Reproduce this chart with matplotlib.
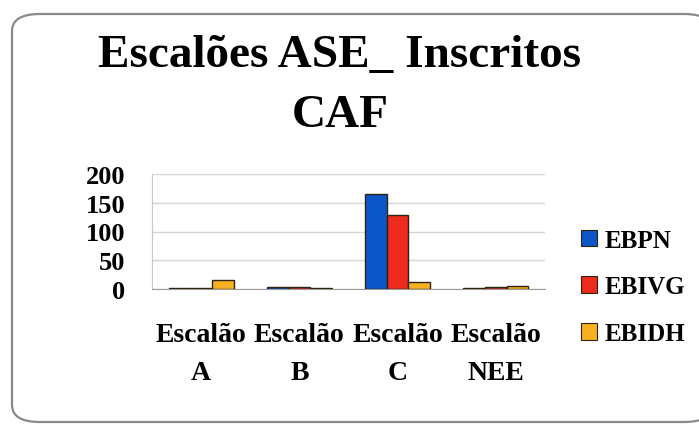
import matplotlib
matplotlib.use("Agg")
import matplotlib.pyplot as plt
from matplotlib.patches import FancyBboxPatch, Patch
import numpy as np

categories = ["Escalão\nA", "Escalão\nB", "Escalão\nC", "Escalão\nNEE"]
series_names = ["EBPN", "EBIVG", "EBIDH"]
ebpn = [2, 3, 166, 2]
ebivg = [2, 3, 129, 3]
ebidh = [16, 2, 13, 5]
yticks = [0, 50, 100, 150, 200]
colors = ["#0B57C9", "#EC2A1E", "#F6B021"]

plt.rcParams['font.family'] = ['Liberation Serif', 'DejaVu Serif']
plt.rcParams['font.weight'] = 'bold'

fig = plt.figure(figsize=(6.99, 4.27), dpi=100)
fig.patch.set_facecolor("white")

box = FancyBboxPatch((12/699, 4/427), 700/699, 408/427,
                     boxstyle="round,pad=0,rounding_size=0.04",
                     transform=fig.transFigure, facecolor="white",
                     edgecolor="#8a8a8a", linewidth=1.6, zorder=-5, clip_on=False)
fig.patches.append(box)

ax = fig.add_axes([152/699, 1-290/427, 393/699, 115/427])
ax.set_zorder(2)
ax.set_facecolor("none")
x = np.arange(len(categories))
w = 0.22
for i, (vals, c, name) in enumerate(zip([ebpn, ebivg, ebidh], colors, series_names)):
    ax.bar(x + (i-1)*w, vals, width=w, color=c, edgecolor="#2e2410",
           linewidth=1.0, label=name, zorder=3)

ax.set_xlim(-0.5, len(categories)-0.5)
ax.set_ylim(0, 200)
ax.set_yticks(yticks)
ax.set_yticklabels([str(v) for v in yticks], fontsize=19, fontweight='bold')
ax.set_xticks(x)
ax.set_xticklabels(categories, fontsize=20, fontweight='bold', linespacing=1.65)
ax.tick_params(axis='y', length=0, pad=19)
ax.tick_params(axis='x', length=0, pad=24)
ax.grid(axis='y', color="#d6d6d6", linewidth=1.0, zorder=0)
for s in ["top", "right"]:
    ax.spines[s].set_visible(False)
ax.spines["left"].set_color("#c8c8c8")
ax.spines["bottom"].set_color("#9a9a9a")

fig.text(340/699, 1-86/427, "Escalões ASE_ Inscritos\nCAF", ha="center", va="center",
         fontsize=34, fontweight="bold", linespacing=1.55, zorder=3)

handles = [Patch(facecolor=c, edgecolor="#2e2410", linewidth=0.8) for c in colors]
leg = fig.legend(handles, series_names, loc="center left",
           bbox_to_anchor=(558/699, 1-288/427), frameon=False,
           prop={'family': ['Liberation Serif'], 'weight': 'bold', 'size': 18},
           handlelength=0.65, handleheight=0.65, handletextpad=0.3, labelspacing=0.95)
leg.set_zorder(3)

fig.savefig("out.png", dpi=100, facecolor="white")
